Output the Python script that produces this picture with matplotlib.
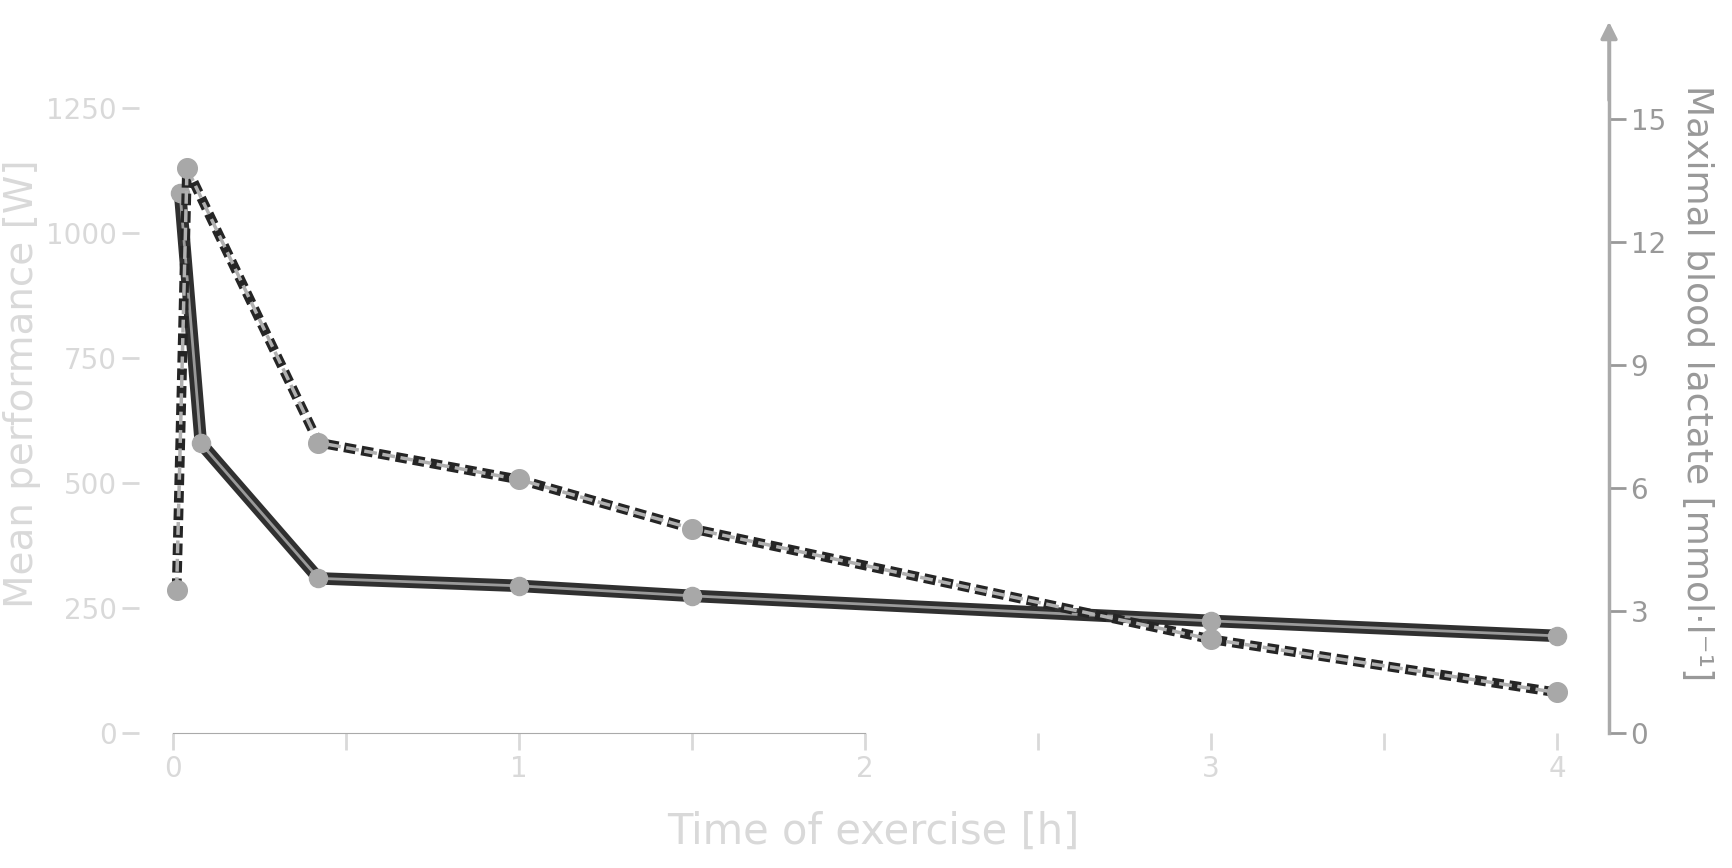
import matplotlib
matplotlib.use("Agg")
import matplotlib.pyplot as plt
import numpy as np

t_perf = [0.02, 0.08, 0.42, 1.0, 1.5, 3.0, 4.0]
perf_w = [1080, 580, 310, 295, 275, 225, 195]
t_lac = [0.01, 0.04, 0.42, 1.0, 1.5, 3.0, 4.0]
lactate = [3.5, 13.8, 7.1, 6.2, 5.0, 2.3, 1.0]
xticks = [0, 1, 2, 3, 4]
xminor = [0.5, 1.5, 2.5, 3.5]
yticks_left = [0, 250, 500, 750, 1000, 1250]
yticks_right = [0, 3, 6, 9, 12, 15]

fig = plt.figure(figsize=(17.32, 8.68), dpi=100)
ax = fig.add_axes([0.08, 0.155, 0.849, 0.807])
ax2 = ax.twinx()
txt = '#d9d9d9'

ax.plot(t_perf, perf_w, color='#303030', lw=9, solid_capstyle='round', zorder=3)
ax.plot(t_perf, perf_w, color='#9a9a9a', lw=2, zorder=4)
ax.scatter(t_perf, perf_w, s=170, color='#a8a8a8', zorder=5)
ax2.plot(t_lac, lactate, color='#252525', lw=7, ls=(0, (1.2, 0.6)), zorder=3)
ax2.plot(t_lac, lactate, color='#b0b0b0', lw=2.5, ls='--', zorder=4)
ax2.scatter(t_lac, lactate, s=200, color='#a8a8a8', zorder=5)

ax.set_xlim(-0.1, 4.15)
ax.set_ylim(0, 1400)
ax2.set_ylim(0, 17.1)
ax.set_xticks(xticks)
ax.set_xticks(xminor, minor=True)
ax.set_yticks(yticks_left)
ax2.set_yticks(yticks_right)
for s in ['top', 'right']:
    ax.spines[s].set_visible(False)
for s in ['top', 'left', 'bottom']:
    ax2.spines[s].set_visible(False)
ax.spines['left'].set_visible(False)
ax.spines['bottom'].set_bounds(0, 2)
ax.spines['bottom'].set_color('#aaaaaa')
ax2.spines['right'].set_color('#aaaaaa')
ax2.spines['right'].set_linewidth(2.5)
ax.tick_params(axis='both', which='both', colors=txt, labelsize=20, length=12, width=2)
ax2.tick_params(axis='y', colors='#999999', labelsize=20, length=12, width=2)
for lab in ax2.get_yticklabels():
    lab.set_color('#999999')
ax.set_xlabel('Time of exercise [h]', fontsize=30, color=txt, labelpad=20)
ax.set_ylabel('Mean performance [W]', fontsize=28, color=txt)
ax2.set_ylabel('Maximal blood lactate [mmol·l⁻¹]', fontsize=26, color='#999999', rotation=270, labelpad=35)
ax2.annotate('', xy=(1.0, 1.02), xytext=(1.0, 0.9), xycoords='axes fraction',
             arrowprops=dict(arrowstyle='-|>', color='#aaaaaa', lw=2.5, mutation_scale=25))
fig.savefig('out.png', dpi=100, facecolor='white')
